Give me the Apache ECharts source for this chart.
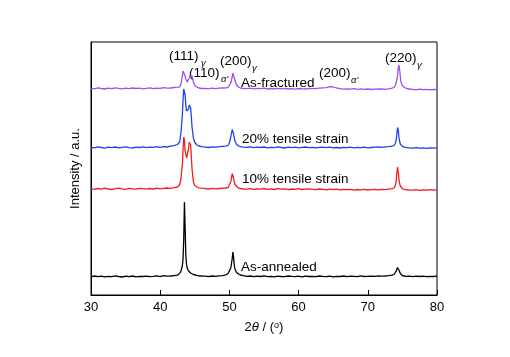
<!DOCTYPE html>
<html>
<head>
<meta charset="utf-8">
<script src="https://cdn.jsdelivr.net/npm/echarts@6/dist/echarts.min.js"></script>
<style>html,body{margin:0;padding:0;background:#fff}#c{width:510px;height:357px}</style>
</head>
<body>
<div id="c"></div>
<script>
// 2-theta sample positions (degrees)
const twoTheta = [
30,30.5,31,31.5,32,32.5,33,33.5,34,34.5,35,35.5,36,36.5,37,37.5,38,38.5,39,39.5,40,40.5,41,41.5,42,42.5,
42.8,43.0,43.2,43.3,43.4,43.5,43.6,43.7,43.8,43.9,44.0,44.1,44.2,44.3,44.4,44.5,44.6,44.8,45.0,45.3,45.6,46.0,
46.5,47,47.5,48,48.5,49,49.5,
49.8,50.0,50.2,50.4,50.5,50.6,50.7,50.8,51.0,51.3,51.6,52.0,
52.5,53,53.5,54,54.5,55,55.5,56,56.5,57,57.5,58,58.5,59,59.5,60,60.5,61,61.5,62,62.5,63,63.5,64,64.5,65,65.5,66,66.5,67,67.5,68,68.5,69,69.5,70,70.5,71,71.5,72,72.5,73,73.5,
73.8,74.0,74.1,74.2,74.3,74.4,74.5,74.6,74.7,74.8,75.0,75.3,75.6,76.0,
76.5,77,77.5,78,78.5,79,79.5,80
];

// Intensities (a.u., stacked offsets included)
const asAnnealed = [
18.2,19.0,18.4,18.9,18.1,18.7,18.3,19.1,18.5,18.0,18.8,18.4,19.0,18.2,18.7,18.5,18.9,18.3,18.6,19.2,18.4,19.3,18.8,19.0,19.4,19.8,
21.5,24,29,36,55,93,68,40,31,27,25,24,23,22.5,22,21.5,21,20.5,20,19.6,19.2,19.0,
18.8,18.4,19.0,18.6,19.1,19.4,20.2,
21.5,23.5,27,36,43,38,30,26,23,21,20,19.3,
18.6,19.0,18.3,18.8,18.5,19.1,18.4,18.7,18.2,18.9,18.5,18.3,19.0,18.6,18.4,18.8,18.2,18.9,18.5,18.7,18.3,19.0,18.6,18.4,18.9,18.2,18.7,18.5,19.0,18.3,18.8,18.6,18.4,19.1,18.5,18.7,18.9,18.6,19.2,18.8,19.0,19.3,19.8,
20.5,22.5,24,26,27.5,27,25,23,21.5,20.5,19.5,19,18.7,18.9,
18.4,18.8,18.5,18.9,18.3,18.7,18.5,18.8
];
const tensile10 = [
106.3,105.6,106.5,105.9,106.8,106.0,105.5,106.4,106.9,106.1,105.7,106.6,106.2,105.8,106.7,106.3,105.9,106.5,106.0,106.8,106.2,106.6,107.0,106.7,107.3,108.0,
110,116,130,145,158,155,144,141,137,135.5,138,146,153,155,150,138,126,113,109.5,108,107.2,106.8,
106.4,106.0,106.7,106.2,106.5,106.9,107.0,
107.5,109,113,121.5,121,117,113,110.5,108.5,107,106.5,106,
105.8,106.4,105.6,106.2,105.9,106.5,105.7,106.1,105.5,106.3,105.9,106.2,105.4,106.0,105.7,106.3,105.5,105.9,106.2,105.6,105.3,106.0,105.6,105.2,105.9,105.4,105.8,105.1,105.7,105.3,105.6,104.9,105.5,105.2,105.7,105.0,105.4,105.6,105.1,105.5,105.3,105.8,106.3,
107,110,114,122,128,123,116,111.5,109,107.5,106.3,105.6,105.2,105,
104.8,105.3,104.7,105.2,104.9,105.4,104.8,105.1
];
const tensile20 = [
147.8,147.1,148.2,147.5,146.9,147.9,147.3,148.0,147.2,147.7,148.1,147.4,147.0,147.8,147.5,148.2,147.3,147.9,147.6,148.3,147.7,148.4,148.0,148.8,149.3,150.5,
153,162,180,195,206,207,200,190,184,182,182.5,186,190,191,187,178,168,157,152.5,150,149,148.3,
147.9,147.5,148.2,147.8,148.4,148.7,148.9,
149.5,152,158,165.5,165,161,157,154,151,149,148.3,147.8,
147.6,148.1,147.3,147.8,147.5,148.0,147.2,147.7,147.4,148.1,147.5,147.0,147.8,147.3,147.9,147.1,147.6,148.0,147.4,147.7,147.1,147.6,147.9,147.3,147.8,147.2,147.5,147.0,147.7,147.4,147.8,147.1,147.6,147.3,147.9,147.2,147.5,147.8,148.0,147.6,148.1,148.4,148.9,
149.5,152,155,161,167.5,165,158,153.5,151,149.8,148.6,147.8,147.4,147.2,
146.9,147.3,146.8,147.2,146.7,147.1,146.9,147.2
];
const asFractured = [
206.8,206.2,207.1,206.5,206.0,206.9,206.4,207.2,206.6,206.1,206.8,206.3,207.0,206.5,206.9,206.2,206.7,207.1,206.4,206.9,206.6,207.3,206.8,207.0,207.5,207.8,
208,211,219,224,225.5,223,219,216,214,213,213,214.5,217,219.5,221,221.5,219,213,209.5,207.8,207,206.5,
206.6,206.2,206.9,206.4,206.8,207.0,207.2,
207.5,209,212,218,222,224,220,215,210.5,208,207,206.5,
206.4,206.9,206.1,206.6,206.3,206.8,206.0,206.5,206.2,206.7,206.1,206.6,206.0,206.4,205.9,206.5,206.2,206.0,206.6,206.3,206.5,206.9,207.2,207.4,208.3,208.0,207.0,206.4,205.9,206.2,205.8,206.3,205.7,206.1,205.6,206.0,205.5,205.9,206.2,206.0,205.7,206.2,206.8,
207.5,210,212,215,220,227,230,225,218,213,209.5,207.5,206.5,206,
205.6,205.2,205.8,205.3,205.7,205.1,205.5,205.3
];

const seriesNames = ['As-annealed', '10% tensile strain', '20% tensile strain', 'As-fractured'];
const seriesValues = [asAnnealed, tensile10, tensile20, asFractured];
const seriesColors = ['#000000', '#f01e1e', '#2340ee', '#a24cf2'];
const xTicks = [30, 40, 50, 60, 70, 80];

const FONT = '"Liberation Sans", Arial, sans-serif';

const chart = echarts.init(document.getElementById('c'), null, {renderer: 'canvas'});

function txt(x, y, s, size, italic) {
  return {
    type: 'text', x: x, y: y, silent: true,
    style: {
      text: s, fill: '#000',
      font: (italic ? 'italic ' : '') + size + 'px ' + FONT,
      textAlign: 'left', textVerticalAlign: 'middle', align: 'left', verticalAlign: 'middle'
    }
  };
}

chart.setOption({
  animation: false,
  backgroundColor: '#fff',
  grid: {left: 91, right: 73, top: 42, bottom: 62, show: true, borderColor: '#000', borderWidth: 1, containLabel: false},
  xAxis: {
    type: 'value', min: xTicks[0], max: xTicks[xTicks.length - 1], interval: 10,
    axisLine: {show: true, lineStyle: {color: '#000', width: 1}},
    axisTick: {show: true, inside: true, length: 5, lineStyle: {color: '#000'}},
    axisLabel: {color: '#000', fontSize: 13, fontFamily: FONT, margin: 6},
    splitLine: {show: false},
    name: '{n|2}{t|θ}{n| / (}{s|o}{n|)}',
    nameLocation: 'middle', nameGap: 26,
    nameTextStyle: {
      rich: {
        n: {fontSize: 13, fontFamily: FONT, color: '#000'},
        t: {fontSize: 13, fontFamily: FONT, fontStyle: 'italic', color: '#000'},
        s: {fontSize: 9, fontFamily: FONT, color: '#000', verticalAlign: 'top', lineHeight: 10}
      }
    }
  },
  yAxis: {
    type: 'value', min: 0, max: 253,
    axisLine: {show: true, lineStyle: {color: '#000', width: 1}},
    axisTick: {show: false}, axisLabel: {show: false}, splitLine: {show: false},
    name: 'Intensity / a.u.', nameLocation: 'middle', nameGap: 9,
    nameTextStyle: {color: '#000', fontSize: 13, fontFamily: FONT}
  },
  series: seriesValues.map((vals, k) => ({
    name: seriesNames[k], type: 'line', showSymbol: false, symbol: 'none',
    lineStyle: {color: seriesColors[k], width: 1.3},
    data: twoTheta.map((x, i) => [x, vals[i]])
  })),
  graphic: [
    txt(169, 56, '(111)', 13.5), txt(201, 63, 'γ', 9.5, true),
    txt(189, 73, '(110)', 13.5), txt(221, 79, "α'", 9.5, true),
    txt(220, 61, '(200)', 13.5), txt(252, 68, 'γ', 9.5, true),
    txt(319, 73, '(200)', 13.5), txt(351, 80, "α'", 9.5, true),
    txt(385, 58, '(220)', 13.5), txt(417, 65, 'γ', 9.5, true),
    txt(241, 83, seriesNames[3], 13.5),
    txt(242, 139, seriesNames[2], 13.5),
    txt(242, 179, seriesNames[1], 13.5),
    txt(241, 267, seriesNames[0], 13.5)
  ]
});
</script>
</body>
</html>
